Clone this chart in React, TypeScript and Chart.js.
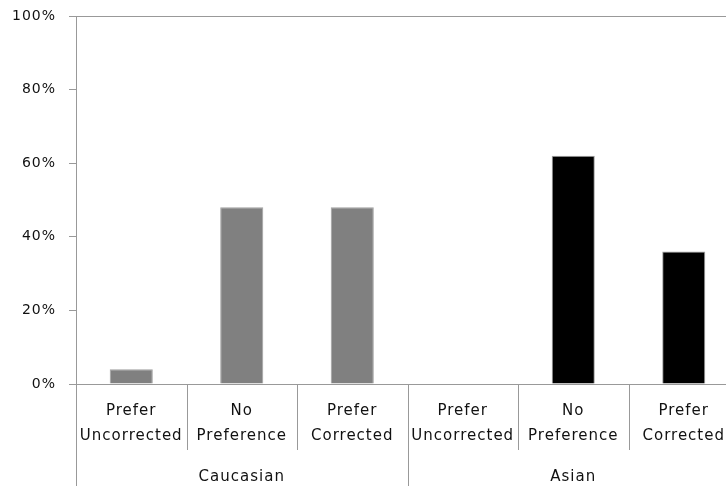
import React, { useEffect, useRef } from "react";
import { Chart, registerables } from "chart.js";

Chart.register(...registerables);

const categories: string[][] = [
  ["Prefer", "Uncorrected"],
  ["No", "Preference"],
  ["Prefer", "Corrected"],
  ["Prefer", "Uncorrected"],
  ["No", "Preference"],
  ["Prefer", "Corrected"],
];
const groups: string[] = ["Caucasian", "Asian"];
const groupSize = 3;
const values: number[] = [4, 48, 48, 0, 62, 36];
const barColors: string[] = ["#808080", "#808080", "#808080", "#000000", "#000000", "#000000"];
const yMax = 100;
const yStep = 20;

const FONT = "'DejaVu Sans', Verdana, sans-serif";
const AXIS = "#999999";
const TEXT = "#111111";

const groupPlugin = {
  id: "groupPlugin",
  beforeDraw(chart: any) {
    chart.ctx.letterSpacing = "1px";
  },
  afterDraw(chart: any) {
    const ctx = chart.ctx;
    const xs = chart.scales.x;
    const area = chart.chartArea;
    const w = xs.getPixelForValue(1) - xs.getPixelForValue(0);
    ctx.save();
    ctx.strokeStyle = AXIS;
    ctx.lineWidth = 1;
    for (let i = 0; i <= categories.length; i++) {
      const bx = Math.round(xs.getPixelForValue(0) + (i - 0.5) * w) + 0.5;
      const long = i % groupSize === 0;
      ctx.beginPath();
      ctx.moveTo(bx, area.bottom);
      ctx.lineTo(bx, long ? chart.height : area.bottom + 66);
      ctx.stroke();
    }
    ctx.fillStyle = TEXT;
    ctx.font = `15px ${FONT}`;
    ctx.letterSpacing = "1px";
    ctx.textAlign = "center";
    ctx.textBaseline = "middle";
    groups.forEach((g, gi) => {
      const c = (xs.getPixelForValue(gi * groupSize) + xs.getPixelForValue(gi * groupSize + groupSize - 1)) / 2;
      ctx.fillText(g, c, 477);
    });
    ctx.restore();
  },
};

export default function App() {
  const ref = useRef<HTMLCanvasElement>(null);
  useEffect(() => {
    document.body.style.margin = "0";
    document.body.style.overflow = "hidden";
    const chart = new Chart(ref.current!, {
      type: "bar",
      data: {
        labels: categories,
        datasets: [
          {
            data: values,
            backgroundColor: barColors,
            borderColor: "#a0a0a0",
            borderWidth: values.map((v) => (v > 0 ? 1 : 0)),
            categoryPercentage: 1,
            barPercentage: 0.39,
          },
        ],
      },
      options: {
        animation: false,
        responsive: false,
        layout: { padding: { top: 16, right: 21, left: 0, bottom: 0 } },
        plugins: { legend: { display: false }, tooltip: { enabled: false } },
        scales: {
          x: {
            offset: true,
            grid: { display: false, drawTicks: false },
            border: { display: true, color: AXIS, width: 1 },
            ticks: {
              autoSkip: false,
              maxRotation: 0,
              minRotation: 0,
              color: TEXT,
              padding: 15,
              font: { family: FONT, size: 15, lineHeight: 1.67 },
            },
            afterFit: (s: any) => {
              s.height = 102;
              s.paddingLeft = 0;
              s.paddingRight = 0;
            },
          },
          y: {
            min: 0,
            max: yMax,
            ticks: {
              stepSize: yStep,
              color: TEXT,
              padding: 13,
              font: { family: FONT, size: 14 },
              callback: (v: any) => `${v}%`,
            },
            grid: {
              drawOnChartArea: true,
              color: (c: any) => (c.tick && c.tick.value === yMax ? AXIS : "transparent"),
              tickColor: AXIS,
              tickLength: 7,
            },
            border: { display: true, color: AXIS, width: 1 },
            afterFit: (s: any) => {
              s.width = 76;
              s.paddingTop = 0;
              s.paddingBottom = 0;
            },
          },
        },
      },
      plugins: [groupPlugin],
    });
    return () => chart.destroy();
  }, []);
  return (
    <div style={{ width: 726, height: 486, overflow: "hidden" }}>
      <canvas ref={ref} width={760} height={486} style={{ width: 760, height: 486 }} />
    </div>
  );
}
